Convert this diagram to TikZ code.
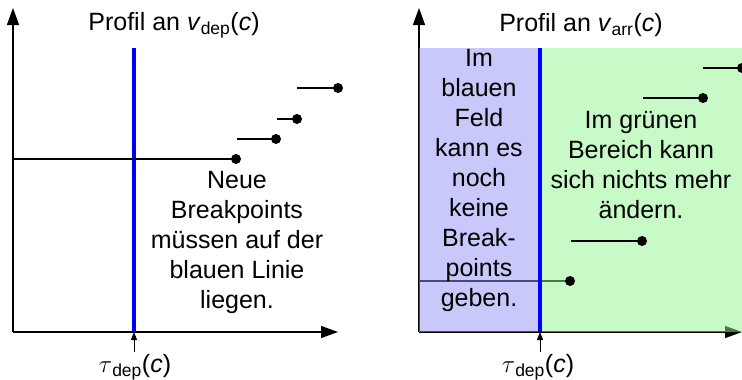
\documentclass[tikz,border=0pt]{standalone}
\usepackage{fontspec}
\setmainfont{Liberation Sans}
\usetikzlibrary{arrows.meta}
\begin{document}
\begin{tikzpicture}[x=1pt,y=-1pt,
  lbl/.style={font=\fontsize{25}{30}\selectfont, align=center, inner sep=0pt},
  ax/.style={line width=1.2pt, -{Triangle[length=17pt,width=12pt]}},
  tickarrow/.style={line width=1pt, -{Triangle[length=8pt,width=6pt]}},
  seg/.style={line width=1.3pt},
  dot/.style={circle, fill=black, inner sep=0pt, minimum size=10pt},
  bline/.style={blue, line width=4.5pt},
  bluefill/.style={fill={rgb,255:red,145;green,145;blue,245}, fill opacity=0.5},
  greenfill/.style={fill={rgb,255:red,145;green,245;blue,145}, fill opacity=0.5},
]
\useasboundingbox (0,0) rectangle (742,380);
% ---------- left panel ----------
\coordinate (O1) at (13,332);
\coordinate (Y1) at (13,8);
\coordinate (X1) at (338,332);
\draw[ax] (O1) -- (Y1);
\draw[ax] (O1) -- (X1);
\coordinate (B1t) at (134,48);
\coordinate (B1b) at (134,332);
\draw[bline] (B1t) -- (B1b);
\coordinate (L1s) at (13,159);
\node[dot] (L1d1) at (236,159) {};
\draw[seg] (L1s) -- (L1d1.center);
\coordinate (L1s2) at (237,139);
\node[dot] (L1d2) at (276,139) {};
\draw[seg] (L1s2) -- (L1d2.center);
\coordinate (L1s3) at (277,119);
\node[dot] (L1d3) at (297,119) {};
\draw[seg] (L1s3) -- (L1d3.center);
\coordinate (L1s4) at (297,88);
\node[dot] (L1d4) at (338,88) {};
\draw[seg] (L1s4) -- (L1d4.center);
\node[lbl] (T1) at (174,25) {Profil an \textit{v}\textsubscript{dep}(\textit{c})};
\node[lbl] (N1) at (237,242) {Neue\\Breakpoints\\müssen auf der\\blauen Linie\\liegen.};
\coordinate (A1s) at (134,352);
\draw[tickarrow] (A1s) -- (B1b);
\node[lbl, anchor=north] (tau1) at (135,354) {$\tau$\textsubscript{dep}(\textit{c})};
% ---------- right panel ----------
\coordinate (O2) at (419,332);
\coordinate (Y2) at (419,8);
\coordinate (X2) at (742,332);
\draw[ax] (O2) -- (Y2);
\draw[ax] (O2) -- (X2);
\coordinate (R1s) at (419,281);
\coordinate (R1e) at (570,281);
\draw[seg] (R1s) -- (R1e);
\fill[bluefill] (419,48) rectangle (540,332);
\fill[greenfill] (540,48) rectangle (745,332);
\node[dot] (R1d1) at (R1e) {};
\coordinate (B2t) at (540,48);
\coordinate (B2b) at (540,332);
\draw[bline] (B2t) -- (B2b);
\coordinate (R1s2) at (571,241);
\node[dot] (R1d2) at (642,241) {};
\draw[seg] (R1s2) -- (R1d2.center);
\coordinate (R1s3) at (643,98);
\node[dot] (R1d3) at (703,98) {};
\draw[seg] (R1s3) -- (R1d3.center);
\coordinate (R1s4) at (703,68);
\node[dot] (R1d4) at (742,68) {};
\draw[seg] (R1s4) -- (R1d4.center);
\node[lbl] (T2) at (581,25) {Profil an \textit{v}\textsubscript{arr}(\textit{c})};
\node[lbl] (N2) at (479,180) {Im\\blauen\\Feld\\kann es\\noch\\keine\\Break-\\points\\geben.};
\node[lbl] (N3) at (641,165) {Im grünen\\Bereich kann\\sich nichts mehr\\ändern.};
\coordinate (A2s) at (540,352);
\draw[tickarrow] (A2s) -- (B2b);
\node[lbl, anchor=north] (tau2) at (538,354) {$\tau$\textsubscript{dep}(\textit{c})};
\end{tikzpicture}
\end{document}
